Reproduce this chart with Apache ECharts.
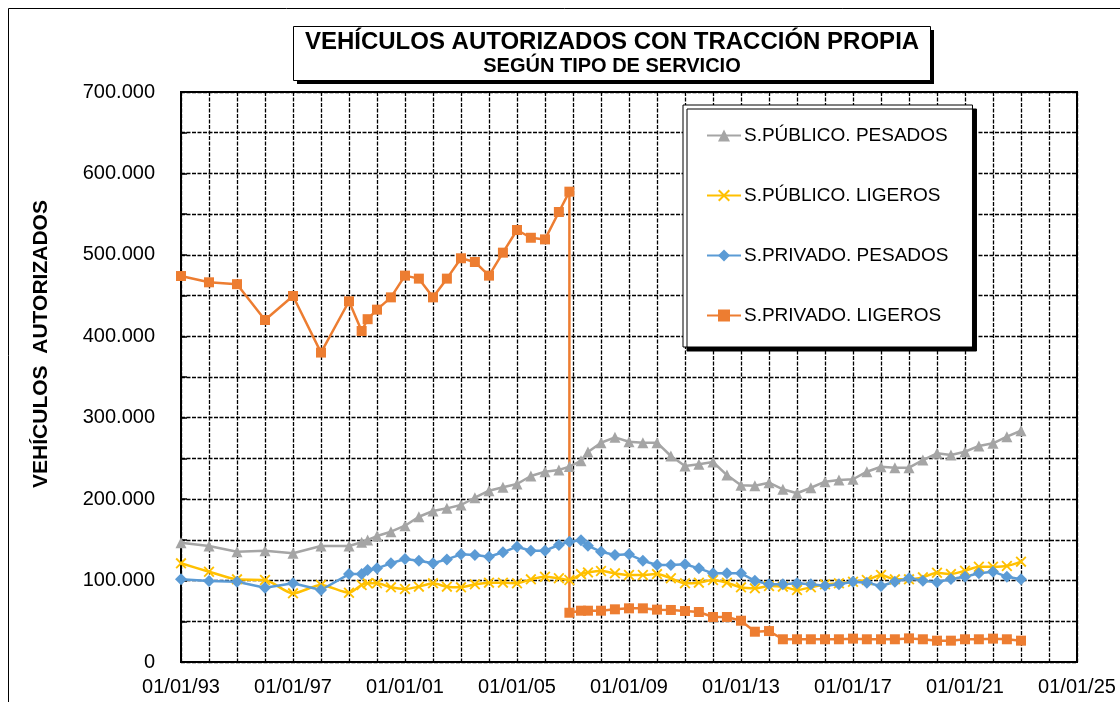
<!DOCTYPE html>
<html>
<head>
<meta charset="utf-8">
<title>Vehículos autorizados con tracción propia</title>
<script src="https://cdn.jsdelivr.net/npm/echarts@6/dist/echarts.min.js"></script>
<style>
  html, body { margin: 0; padding: 0; background: #fff; }
  #chart { width: 1120px; height: 702px; }
</style>
</head>
<body>
<div id="chart"></div>
<script>
// fechas de cada observación (comunes a las cuatro series)
const dates = [
  '1993-01-01', '1994-01-01', '1995-01-01', '1996-01-01', '1997-01-01', '1998-01-01', '1999-01-01',
  '1999-06-15', '1999-09-01',
  '2000-01-01', '2000-07-01', '2001-01-01', '2001-07-01', '2002-01-01', '2002-07-01',
  '2003-01-01', '2003-07-01', '2004-01-01', '2004-07-01', '2005-01-01', '2005-07-01',
  '2006-01-01', '2006-07-01',
  '2006-11-15', '2007-04-15', '2007-07-15',
  '2008-01-01', '2008-07-01', '2009-01-01', '2009-07-01', '2010-01-01', '2010-07-01',
  '2011-01-01', '2011-07-01', '2012-01-01', '2012-07-01', '2013-01-01', '2013-07-01',
  '2014-01-01', '2014-07-01', '2015-01-01', '2015-07-01', '2016-01-01', '2016-07-01',
  '2017-01-01', '2017-07-01', '2018-01-01', '2018-07-01', '2019-01-01', '2019-07-01',
  '2020-01-01', '2020-07-01', '2021-01-01', '2021-07-01', '2022-01-01', '2022-07-01',
  '2023-01-01'
];

const publicoPesados = [
  146500, 142500, 135500, 136700, 133500, 142500, 142500,
  147000, 149800,
  154700, 160000, 167400, 178400, 185400, 188700, 192800, 201800, 210400, 214500,
  218600, 228400, 233700, 235800,
  240000, 247000, 258000,
  269300, 275900, 270500, 269300, 269300, 253000, 240700, 242800, 245600, 229600,
  217000, 216500, 220200, 212100, 207200, 214000, 221400, 223500, 224400, 233700,
  239800, 238600, 238600, 248000, 256300, 254200, 258200, 265300, 268600, 276700,
  284000
];

const publicoLigeros = [
  121200, 110900, 101500, 100700, 84300, 94600, 85100,
  94600, 96600,
  96600, 91700, 89600, 92500, 96600, 92500, 91700, 95400, 97400, 97400,
  96600, 101500, 104800, 102800,
  100700, 108000, 110000,
  111800, 108900, 106800, 106800, 108000, 102800, 96600, 97400, 100700, 97400,
  91700, 90500, 93300, 92500, 88400, 91700, 95400, 96600, 98600, 100700,
  106800, 101500, 101500, 104000, 109600, 108000, 112100, 117000, 117000, 117900,
  123200
];

const privadoPesados = [
  101500, 99500, 98600, 91300, 96600, 88400, 108000,
  108000, 113000,
  115000, 121200, 126500, 124400, 121200, 126000, 132200, 131400, 129300, 134700,
  141600, 136700, 136700, 143700,
  147800, 149500, 142700,
  135500, 131400, 132200, 124400, 119100, 119100, 120000, 115000, 108900, 108900,
  108900, 99800, 95400, 95400, 96600, 95400, 93700, 95400, 98600, 97400,
  93300, 98600, 102800, 99800, 97900, 101900, 104800, 108900, 110900, 104800,
  101600
];

// privado ligeros: cambio de criterio a finales de 2006 (dos valores en la misma fecha)
const privadoLigerosAntes = [
  474000, 466300, 464000, 420000, 449500, 380000, 443000,
  406500, 421000,
  432700, 447800, 474500, 470800, 447800, 470800, 495800, 491200, 474500, 502700,
  530500, 521000, 519000, 552600,
  577600
];
const privadoLigerosDespues = [
  60500, 63000, 63000,
  63000, 64700, 65900, 65900, 64300, 63900, 62600, 61400, 55300, 55300,
  50700, 37200, 38000, 27900, 27900, 27900, 27900, 27900, 28700, 27900,
  27900, 27900, 29000, 27900, 26200, 26200, 27900, 27900, 28700, 27900,
  26200
];

const seriesNames = ['S.PÚBLICO. PESADOS', 'S.PÚBLICO. LIGEROS', 'S.PRIVADO. PESADOS', 'S.PRIVADO. LIGEROS'];
const xTickYears = [1993, 1997, 2001, 2005, 2009, 2013, 2017, 2021, 2025];

function toYear(s) {
  const d = new Date(s + 'T00:00:00Z');
  const y = d.getUTCFullYear();
  const start = Date.UTC(y, 0, 1);
  const end = Date.UTC(y + 1, 0, 1);
  return y + (d.getTime() - start) / (end - start);
}

function pairs(ds, vals) {
  return vals.map((v, i) => [toYear(ds[i]), v]);
}

const crossPath = 'path://M0,1.2L1.2,0L10,8.8L8.8,10Z M8.8,0L10,1.2L1.2,10L0,8.8Z';
const font = 'Liberation Sans, Arial, sans-serif';

const privadoLigerosData = pairs(dates.slice(0, 24), privadoLigerosAntes)
  .concat(pairs(dates.slice(23), privadoLigerosDespues));

let myChart = echarts.init(document.getElementById('chart'));
myChart.setOption({
  animation: false,
  backgroundColor: '#fff',
  textStyle: { fontFamily: font },
  grid: {
    left: 181, top: 92, right: 43, bottom: 40,
    show: true, borderColor: '#000', borderWidth: 2
  },
  graphic: [
    // marco exterior
    { type: 'rect', shape: { x: 8.5, y: 8.5, width: 1130, height: 720 },
      style: { fill: 'none', stroke: '#000', lineWidth: 1 }, silent: true },
    // caja del título con sombra
    { type: 'rect', shape: { x: 297, y: 30, width: 637, height: 54 }, style: { fill: '#000' }, silent: true },
    { type: 'rect', shape: { x: 293.5, y: 26.5, width: 637, height: 54 },
      style: { fill: '#fff', stroke: '#000', lineWidth: 1 }, silent: true },
    { type: 'text', x: 612, y: 42, silent: true,
      style: { text: 'VEHÍCULOS AUTORIZADOS CON TRACCIÓN PROPIA', font: 'bold 24px ' + font,
        fill: '#000', textAlign: 'center', textVerticalAlign: 'middle' } },
    { type: 'text', x: 612, y: 66, silent: true,
      style: { text: 'SEGÚN TIPO DE SERVICIO', font: 'bold 20px ' + font,
        fill: '#000', textAlign: 'center', textVerticalAlign: 'middle' } },
    // título del eje vertical
    { type: 'text', x: 41, y: 344, rotation: Math.PI / 2, silent: true,
      style: { text: 'VEHÍCULOS  AUTORIZADOS', font: 'bold 21px ' + font,
        fill: '#000', textAlign: 'center', textVerticalAlign: 'middle' } }
  ],
  legend: {
    orient: 'vertical',
    left: 683, top: 105,
    padding: [21, 24, 22, 23],
    itemGap: 41,
    itemWidth: 34,
    itemHeight: 15,
    backgroundColor: '#fff',
    borderColor: '#000',
    borderWidth: 1,
    shadowColor: '#000',
    shadowBlur: 0,
    shadowOffsetX: 4,
    shadowOffsetY: 4,
    textStyle: { fontSize: 19, color: '#000', fontFamily: font, padding: [0, 0, 0, -2] },
    data: seriesNames
  },
  xAxis: {
    type: 'value',
    min: 1993, max: 2025, interval: 1,
    axisLine: { show: true, lineStyle: { color: '#000', width: 2 } },
    axisTick: { show: false },
    axisLabel: {
      color: '#000', fontSize: 20, margin: 15, fontFamily: font,
      formatter: v => xTickYears.indexOf(v) >= 0 ? '01/01/' + String(v).slice(2) : ''
    },
    splitLine: { show: true, lineStyle: { color: '#000', type: [4, 1.5], width: 1.3 } }
  },
  yAxis: {
    type: 'value',
    min: 0, max: 700000, interval: 50000,
    axisLine: { show: true, lineStyle: { color: '#000', width: 2 } },
    axisTick: { show: true, inside: true, length: 6, lineStyle: { color: '#000', width: 1.5 } },
    axisLabel: {
      color: '#000', fontSize: 20, margin: 26, fontFamily: font,
      formatter: v => v % 100000 === 0 ? String(v).replace(/\B(?=(\d{3})+(?!\d))/g, '.') : ''
    },
    splitLine: { show: true, lineStyle: { color: '#000', type: [4, 1.5], width: 1.3 } }
  },
  series: [
    {
      name: seriesNames[0], type: 'line',
      data: pairs(dates, publicoPesados),
      symbol: 'triangle', symbolSize: 11,
      lineStyle: { color: '#A5A5A5', width: 2.5 },
      itemStyle: { color: '#A5A5A5' }
    },
    {
      name: seriesNames[1], type: 'line',
      data: pairs(dates, publicoLigeros),
      smooth: 0.25,
      symbol: crossPath, symbolSize: 11,
      lineStyle: { color: '#FFC000', width: 2.5 },
      itemStyle: { color: '#FFC000' }
    },
    {
      name: seriesNames[2], type: 'line',
      data: pairs(dates, privadoPesados),
      symbol: 'diamond', symbolSize: 12,
      lineStyle: { color: '#5B9BD5', width: 2.5 },
      itemStyle: { color: '#5B9BD5' }
    },
    {
      name: seriesNames[3], type: 'line',
      data: privadoLigerosData,
      symbol: 'rect', symbolSize: 10,
      lineStyle: { color: '#ED7D31', width: 2.5 },
      itemStyle: { color: '#ED7D31' }
    }
  ]
});
</script>
</body>
</html>
